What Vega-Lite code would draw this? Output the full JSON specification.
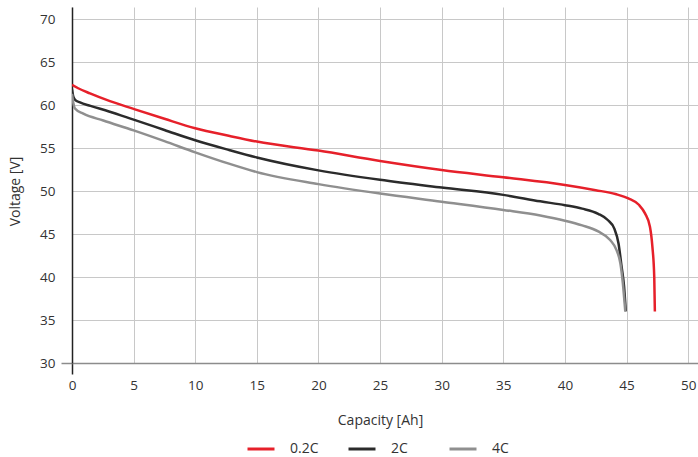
{
  "$schema": "https://vega.github.io/schema/vega-lite/v6.json",
  "width": 626,
  "height": 356,
  "autosize": "none",
  "padding": {"left": 72, "top": 7, "right": 0, "bottom": 94},
  "background": "white",
  "config": {
    "view": {"stroke": null},
    "font": "Open Sans",
    "axis": {"labelFont": "Open Sans", "titleFont": "Open Sans", "labelFontSize": 13.5, "titleFontSize": 14, "labelColor": "#333333", "titleColor": "#333333", "titleFontWeight": "normal", "gridColor": "#c8c8c8", "gridWidth": 1},
    "legend": {"labelFont": "Open Sans", "labelFontSize": 14, "labelColor": "#333333"}
  },
  "data": {
    "values": [
      {"series": "0.2C", "capacity": 0, "voltage": 62.35},
      {"series": "0.2C", "capacity": 0.5, "voltage": 61.95},
      {"series": "0.2C", "capacity": 1.46, "voltage": 61.35},
      {"series": "0.2C", "capacity": 3.08, "voltage": 60.45},
      {"series": "0.2C", "capacity": 5, "voltage": 59.55},
      {"series": "0.2C", "capacity": 7.5, "voltage": 58.4},
      {"series": "0.2C", "capacity": 10, "voltage": 57.3},
      {"series": "0.2C", "capacity": 12.8, "voltage": 56.4},
      {"series": "0.2C", "capacity": 15, "voltage": 55.75},
      {"series": "0.2C", "capacity": 20, "voltage": 54.7},
      {"series": "0.2C", "capacity": 25, "voltage": 53.5},
      {"series": "0.2C", "capacity": 30, "voltage": 52.45},
      {"series": "0.2C", "capacity": 35, "voltage": 51.6},
      {"series": "0.2C", "capacity": 40, "voltage": 50.7},
      {"series": "0.2C", "capacity": 42.5, "voltage": 50.1},
      {"series": "0.2C", "capacity": 44.1, "voltage": 49.65},
      {"series": "0.2C", "capacity": 45.15, "voltage": 49.15},
      {"series": "0.2C", "capacity": 46.0, "voltage": 48.4},
      {"series": "0.2C", "capacity": 46.5, "voltage": 47.4},
      {"series": "0.2C", "capacity": 46.9, "voltage": 45.85},
      {"series": "0.2C", "capacity": 47.1, "voltage": 43.5},
      {"series": "0.2C", "capacity": 47.25, "voltage": 40.0},
      {"series": "0.2C", "capacity": 47.3, "voltage": 36.0},
      {"series": "2C", "capacity": 0, "voltage": 61.8},
      {"series": "2C", "capacity": 0.1, "voltage": 61.0},
      {"series": "2C", "capacity": 0.25, "voltage": 60.6},
      {"series": "2C", "capacity": 0.65, "voltage": 60.3},
      {"series": "2C", "capacity": 1.5, "voltage": 59.9},
      {"series": "2C", "capacity": 3, "voltage": 59.25},
      {"series": "2C", "capacity": 5, "voltage": 58.3},
      {"series": "2C", "capacity": 7.5, "voltage": 57.1},
      {"series": "2C", "capacity": 10, "voltage": 55.9},
      {"series": "2C", "capacity": 12.8, "voltage": 54.75},
      {"series": "2C", "capacity": 15, "voltage": 53.9},
      {"series": "2C", "capacity": 20, "voltage": 52.4},
      {"series": "2C", "capacity": 25, "voltage": 51.3},
      {"series": "2C", "capacity": 30, "voltage": 50.4},
      {"series": "2C", "capacity": 35, "voltage": 49.55},
      {"series": "2C", "capacity": 38, "voltage": 48.8},
      {"series": "2C", "capacity": 40, "voltage": 48.35},
      {"series": "2C", "capacity": 41.4, "voltage": 47.95},
      {"series": "2C", "capacity": 42.7, "voltage": 47.35},
      {"series": "2C", "capacity": 43.5, "voltage": 46.6},
      {"series": "2C", "capacity": 44.0, "voltage": 45.66},
      {"series": "2C", "capacity": 44.35, "voltage": 43.9},
      {"series": "2C", "capacity": 44.6, "voltage": 41.2},
      {"series": "2C", "capacity": 44.8, "voltage": 38.9},
      {"series": "2C", "capacity": 44.94, "voltage": 36.0},
      {"series": "4C", "capacity": 0, "voltage": 61.3},
      {"series": "4C", "capacity": 0.1, "voltage": 60.3},
      {"series": "4C", "capacity": 0.24, "voltage": 59.6},
      {"series": "4C", "capacity": 0.92, "voltage": 59.0},
      {"series": "4C", "capacity": 2.54, "voltage": 58.2},
      {"series": "4C", "capacity": 5, "voltage": 57.05},
      {"series": "4C", "capacity": 7.5, "voltage": 55.8},
      {"series": "4C", "capacity": 10, "voltage": 54.5},
      {"series": "4C", "capacity": 12.8, "voltage": 53.15},
      {"series": "4C", "capacity": 15, "voltage": 52.2},
      {"series": "4C", "capacity": 20, "voltage": 50.8},
      {"series": "4C", "capacity": 25, "voltage": 49.7},
      {"series": "4C", "capacity": 30, "voltage": 48.76},
      {"series": "4C", "capacity": 35, "voltage": 47.8},
      {"series": "4C", "capacity": 38, "voltage": 47.15},
      {"series": "4C", "capacity": 40, "voltage": 46.55},
      {"series": "4C", "capacity": 41.4, "voltage": 46.0},
      {"series": "4C", "capacity": 42.7, "voltage": 45.3},
      {"series": "4C", "capacity": 43.67, "voltage": 44.3},
      {"series": "4C", "capacity": 44.2, "voltage": 43.1},
      {"series": "4C", "capacity": 44.5, "voltage": 41.6},
      {"series": "4C", "capacity": 44.7, "voltage": 39.3},
      {"series": "4C", "capacity": 44.9, "voltage": 36.0}
    ]
  },
  "mark": {"type": "line", "strokeWidth": 2.5, "interpolate": "monotone", "clip": true},
  "encoding": {
    "x": {
      "field": "capacity", "type": "quantitative",
      "scale": {"domain": [0, 50.8], "nice": false, "zero": false},
      "axis": {
        "title": "Capacity [Ah]",
        "values": [0, 5, 10, 15, 20, 25, 30, 35, 40, 45, 50],
        "grid": true,
        "domainColor": "#8c8c8c", "domainWidth": 1.5,
        "tickColor": {"expr": "datum.value == 0 ? '#222222' : 'transparent'"},
        "tickWidth": 1.5,
        "tickSize": 11,
        "labelPadding": 4,
        "labelFlush": false,
        "titleX": 308, "titleY": 61, "titleBaseline": "alphabetic", "titleAlign": "center", "titleAnchor": null
      }
    },
    "y": {
      "field": "voltage", "type": "quantitative",
      "scale": {"domain": [30, 71.4], "nice": false, "zero": false},
      "axis": {
        "title": "Voltage [V]",
        "values": [30, 35, 40, 45, 50, 55, 60, 65, 70],
        "grid": true,
        "domainColor": "#222222", "domainWidth": 1.5,
        "tickColor": {"expr": "datum.value == 30 ? '#8c8c8c' : 'transparent'"},
        "tickWidth": 1.5,
        "tickSize": 11,
        "labelPadding": 6,
        "labelFlush": false,
        "titleAngle": -90, "titleX": -57, "titleY": 184, "titleBaseline": "middle", "titleAlign": "center"
      }
    },
    "color": {
      "field": "series", "type": "nominal",
      "scale": {"domain": ["0.2C", "2C", "4C"], "range": ["#e6202a", "#2b2b2b", "#8f8f8f"]},
      "legend": {
        "title": null, "orient": "none", "direction": "horizontal",
        "legendX": 174, "legendY": 427,
        "symbolType": "stroke", "symbolSize": 729, "symbolStrokeWidth": 3,
        "labelOffset": 14, "columnPadding": 23, "gridAlign": "all", "padding": 0
      }
    }
  }
}
